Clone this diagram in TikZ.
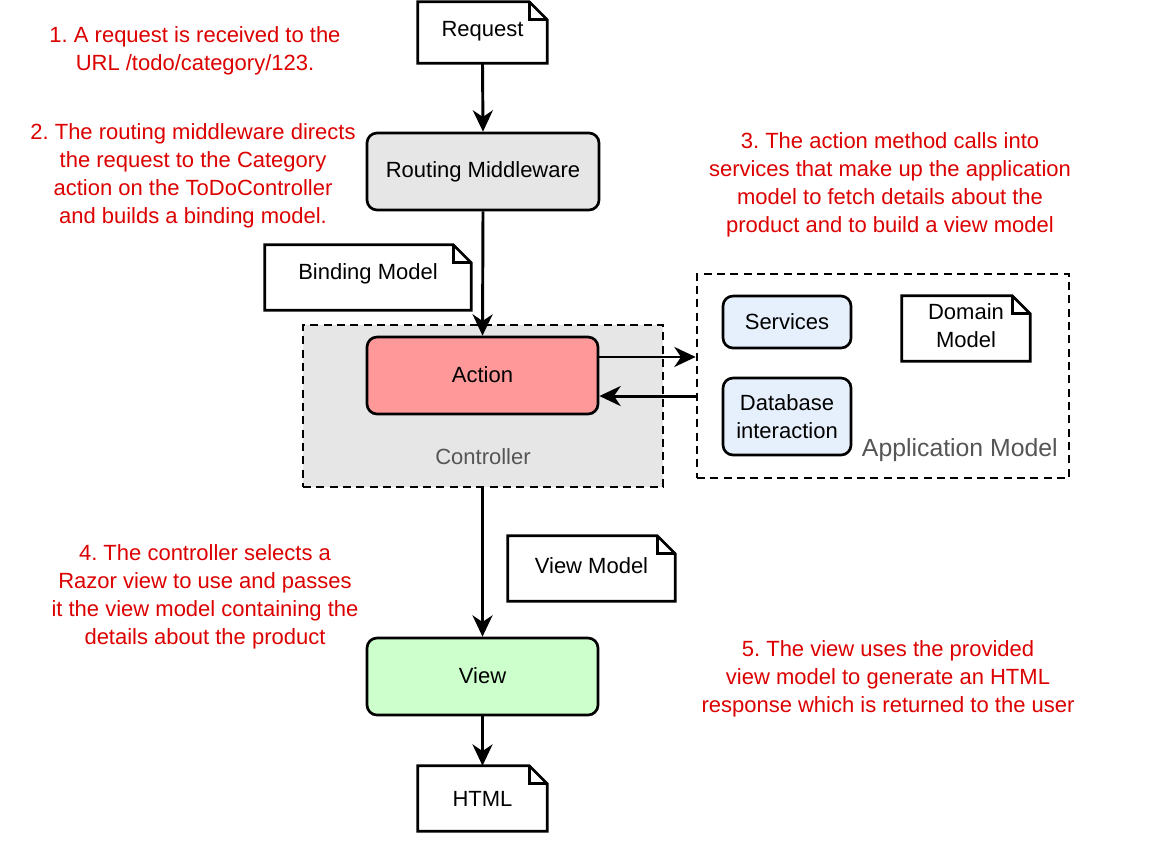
\documentclass[tikz,border=0pt]{standalone}
\usepackage{fontspec}
\setmainfont{Liberation Sans}
\usetikzlibrary{arrows.meta,positioning}
\frenchspacing
\definecolor{redtxt}{HTML}{DC0000}
\definecolor{greytxt}{HTML}{555555}
\definecolor{boxgrey}{HTML}{E6E6E6}
\definecolor{actionred}{HTML}{FF9999}
\definecolor{viewgreen}{HTML}{CCFFCC}
\definecolor{svcblue}{HTML}{E6F0FC}
\tikzset{
  every node/.style={font=\fontsize{16.5}{21}\selectfont, inner sep=0pt, align=center},
  procbox/.style={draw, line width=2pt, rounded corners=7.5pt, minimum width=173.25pt, minimum height=57.75pt},
  smallbox/.style={draw, line width=2pt, rounded corners=7.5pt, fill=svcblue, minimum width=96pt},
  docnode/.style={minimum height=48.75pt},
  docline/.style={line width=2pt, fill=white, line join=miter},
  container/.style={draw, line width=2pt, dash pattern=on 6pt off 4pt},
  note/.style={text=redtxt},
  grouplabel/.style={text=greytxt},
  arr/.style={line width=2.2pt, -{Stealth[length=16pt,width=15pt,inset=5pt]}},
}
\newcommand{\docoutline}[1]{%
  \draw[docline] (#1.south west) -- (#1.north west) -- ([xshift=-13.5pt]#1.north east)
     -- ([yshift=-13.5pt]#1.north east) -- (#1.south east) -- cycle;
  \draw[docline, fill=none] ([xshift=-13.5pt]#1.north east) -- ([xshift=-13.5pt,yshift=-13.5pt]#1.north east)
     -- ([yshift=-13.5pt]#1.north east);}
\begin{document}
\begin{tikzpicture}[x=0.75pt,y=-0.75pt]
\useasboundingbox[fill=white] (0,0) rectangle (1162,854);

% containers
\node[container, fill=boxgrey, minimum width=270pt, minimum height=121.5pt] (ctrl) at (483,406) {};
\node[grouplabel] (ctrllbl) at (483,457) {Controller};
\node[container, minimum width=279pt, minimum height=153pt] (app) at (883,376) {};
\node[grouplabel, anchor=east, font=\fontsize{18.6}{22}\selectfont] (applbl) at (1058,450) {Application Model};

% documents
\path (482.5,32.5) node[docnode, minimum width=96.75pt, minimum height=45.75pt] (req) {};
\docoutline{req}
\node at ([yshift=1pt]req.center) {Request};

\path (368,277.5) node[docnode, minimum width=154.5pt] (bind) {};
\docoutline{bind}
\node at ([yshift=3pt]bind.center) {Binding Model};

\path (966,328.5) node[docnode, minimum width=96pt] (dom) {};
\docoutline{dom}
\node at ([yshift=2pt]dom.center) {Domain\\Model};

\path (591.5,568.5) node[docnode, minimum width=125.25pt] (vm) {};
\docoutline{vm}
\node at ([yshift=2pt]vm.center) {View Model};

\path (482.5,798.5) node[docnode, minimum width=96.75pt] (html) {};
\docoutline{html}
\node at (html) {HTML};

% process boxes
\node[procbox, fill=boxgrey, minimum width=174pt] (route) at (483,171.5) {\raisebox{1.5pt}{Routing Middleware}};
\node[procbox, fill=actionred] (action) at (482.5,375.5) {\raisebox{1.5pt}{Action}};
\node[procbox, fill=viewgreen] (view) at (482.5,676.5) {\raisebox{1.5pt}{View}};
\node[smallbox, minimum height=39pt] (svc) at (787,322) {Services};
\node[smallbox, minimum height=57.75pt] (db) at (787,416.5) {Database\\interaction};

% connectors
\draw[arr] (req.south) -- (route.north);
\draw[arr] (route.south) -- (action.north);
\coordinate (outA) at ([yshift=13.9pt]action.east);
\draw[arr] (outA) -- (outA -| app.west);
\coordinate (inA) at ([yshift=-15.4pt]action.east);
\draw[arr] (inA -| app.west) -- (inA);
\draw[arr] (ctrl.south -| view.north) -- (view.north);
\draw[arr] (view.south) -- (html.north);

% notes
\node[note] (n1) at (195,51) {1. A request is received to the\\URL /todo/category/123.};
\node[note] (n2) at (193,176) {2. The routing middleware directs\\the request to the Category\\action on the ToDoController\\and builds a binding model.};
\node[note] (n3) at (890,185) {3. The action method calls into\\services that make up the application\\model to fetch details about the\\product and to build a view model};
\node[note] (n4) at (205,597) {4. The controller selects a\\Razor view to use and passes\\it the view model containing the\\details about the product};
\node[note] (n5) at (888,679) {5. The view uses the provided\\view model to generate an HTML\\response which is returned to the user};
\end{tikzpicture}
\end{document}
